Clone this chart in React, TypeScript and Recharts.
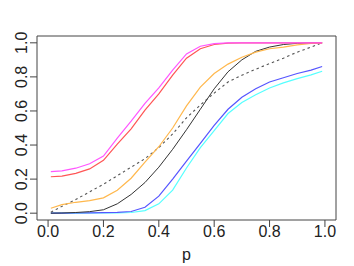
import { LineChart, Line, XAxis, YAxis, ReferenceArea } from 'recharts';

const pValues = [0.01, 0.05, 0.1, 0.15, 0.2, 0.25, 0.3, 0.35, 0.4, 0.45, 0.5, 0.55, 0.6, 0.65, 0.7, 0.75, 0.8, 0.85, 0.9, 0.95, 0.99];

const magenta = [0.244, 0.248, 0.264, 0.29, 0.335, 0.44, 0.54, 0.645, 0.735, 0.84, 0.935, 0.98, 0.995, 1, 1, 1, 1, 1, 1, 1, 1];
const red = [0.214, 0.218, 0.234, 0.26, 0.31, 0.405, 0.495, 0.605, 0.7, 0.81, 0.91, 0.965, 0.99, 0.998, 1, 1, 1, 1, 1, 1, 1];
const orange = [0.029, 0.05, 0.064, 0.074, 0.09, 0.135, 0.205, 0.3, 0.39, 0.5, 0.63, 0.74, 0.82, 0.875, 0.915, 0.945, 0.965, 0.975, 0.988, 0.996, 1];
const dotted = [0.006, 0.04, 0.08, 0.125, 0.17, 0.22, 0.27, 0.32, 0.385, 0.465, 0.56, 0.635, 0.705, 0.77, 0.81, 0.845, 0.878, 0.91, 0.945, 0.975, 1];
const black = [0, 0.001, 0.004, 0.009, 0.02, 0.055, 0.11, 0.18, 0.27, 0.375, 0.49, 0.61, 0.73, 0.83, 0.9, 0.95, 0.975, 0.99, 0.997, 1, 1];
const blue = [0, 0, 0.001, 0.002, 0.003, 0.005, 0.01, 0.035, 0.1, 0.2, 0.305, 0.41, 0.515, 0.61, 0.68, 0.73, 0.77, 0.795, 0.82, 0.84, 0.861];
const cyan = [0, 0, 0, 0.001, 0.001, 0.002, 0.004, 0.015, 0.055, 0.135, 0.265, 0.385, 0.485, 0.585, 0.65, 0.695, 0.735, 0.765, 0.79, 0.812, 0.833];

const ticks = [0, 0.2, 0.4, 0.6, 0.8, 1];

const data = pValues.map((p, i) => ({
  p,
  magenta: magenta[i],
  red: red[i],
  orange: orange[i],
  dotted: dotted[i],
  black: black[i],
  blue: blue[i],
  cyan: cyan[i],
}));

const font = '"Liberation Sans", Arial, sans-serif';

const XTick = ({ x, y, payload }: any) => (
  <text x={x} y={y + 8} textAnchor="middle" fontSize={16} fontFamily={font} fill="#222">
    {payload.value.toFixed(1)}
  </text>
);

const YTick = ({ x, y, payload }: any) => (
  <text
    x={x - 7}
    y={y}
    dy="0.35em"
    transform={`rotate(-90, ${x - 7}, ${y})`}
    textAnchor="middle"
    fontSize={16}
    fontFamily={font}
    fill="#222"
  >
    {payload.value.toFixed(1)}
  </text>
);

export default function App() {
  return (
    <div style={{ position: 'absolute', left: 0, top: 0, background: '#fff' }}>
      <LineChart width={354} height={266} data={data} margin={{ top: 36, right: 18, left: 7, bottom: 16 }}>
        <XAxis
          dataKey="p"
          type="number"
          domain={[-0.04, 1.04]}
          ticks={ticks}
          allowDataOverflow
          axisLine={false}
          tickSize={7}
          tickLine={{ stroke: '#444' }}
          tick={<XTick />}
          height={30}
          label={{
            content: ({ viewBox }: any) => (
              <text x={viewBox.x + viewBox.width / 2} y={viewBox.y + 40} textAnchor="middle" fontSize={16} fontFamily={font} fill="#222">
                p
              </text>
            ),
          }}
        />
        <YAxis
          type="number"
          domain={[-0.04, 1.04]}
          ticks={ticks}
          allowDataOverflow
          axisLine={false}
          tickSize={7}
          tickLine={{ stroke: '#444' }}
          tick={<YTick />}
          width={30}
        />
        <ReferenceArea x1={-0.04} x2={1.04} y1={-0.04} y2={1.04} fill="none" stroke="#444" strokeWidth={1} ifOverflow="visible" />
        <Line type="linear" dataKey="cyan" stroke="#55ffff" strokeWidth={1.2} dot={false} isAnimationActive={false} />
        <Line type="linear" dataKey="blue" stroke="#5555ff" strokeWidth={1.2} dot={false} isAnimationActive={false} />
        <Line type="linear" dataKey="black" stroke="#333" strokeWidth={1} dot={false} isAnimationActive={false} />
        <Line type="linear" dataKey="dotted" stroke="#555" strokeWidth={1.1} strokeDasharray="2.5 3" dot={false} isAnimationActive={false} />
        <Line type="linear" dataKey="orange" stroke="#ffb84d" strokeWidth={1.2} dot={false} isAnimationActive={false} />
        <Line type="linear" dataKey="red" stroke="#ff5555" strokeWidth={1.2} dot={false} isAnimationActive={false} />
        <Line type="linear" dataKey="magenta" stroke="#ff55ff" strokeWidth={1.2} dot={false} isAnimationActive={false} />
      </LineChart>
    </div>
  );
}
